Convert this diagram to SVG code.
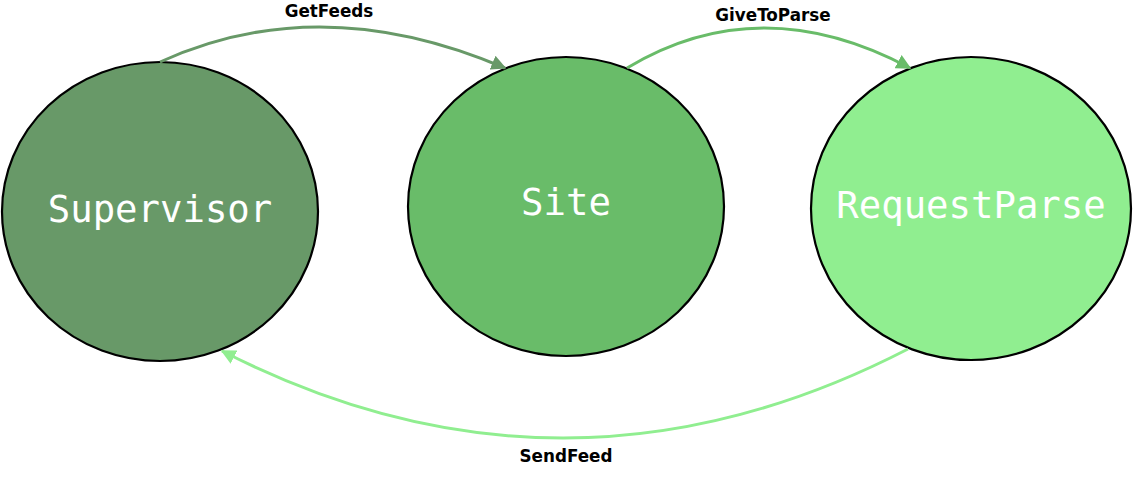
<svg xmlns="http://www.w3.org/2000/svg" width="1133" height="491" viewBox="0 0 1133 491">
<style>
.node{stroke:#000;stroke-width:2.2}
.nl{font-family:"DejaVu Sans Mono",monospace;font-size:37.3px;fill:#fff;text-anchor:middle}
.el{font-family:"DejaVu Sans",sans-serif;font-weight:bold;font-size:16.8px;fill:#000;text-anchor:middle}
.edge{fill:none;stroke-width:3}
</style>
<defs>
<marker id="a1" viewBox="0 0 10 10" refX="9" refY="5" markerWidth="5" markerHeight="5" orient="auto" markerUnits="strokeWidth"><path d="M0,0 L10,5 L0,10 z" fill="#689968"/></marker>
<marker id="a2" viewBox="0 0 10 10" refX="9" refY="5" markerWidth="5" markerHeight="5" orient="auto" markerUnits="strokeWidth"><path d="M0,0 L10,5 L0,10 z" fill="#69bc69"/></marker>
<marker id="a3" viewBox="0 0 10 10" refX="9" refY="5" markerWidth="5" markerHeight="5" orient="auto" markerUnits="strokeWidth"><path d="M0,0 L10,5 L0,10 z" fill="#90ee90"/></marker>
</defs>
<rect width="1133" height="491" fill="#fff"/>
<g id="supervisor">
<ellipse class="node" cx="160" cy="211.5" rx="158" ry="149.5" fill="#689968"/>
<text class="nl" x="160" y="222">Supervisor</text>
</g>
<g id="site">
<ellipse class="node" cx="566" cy="206.5" rx="158" ry="149.5" fill="#69bc69"/>
<text class="nl" x="566" y="215">Site</text>
</g>
<g id="requestparse">
<ellipse class="node" cx="971" cy="208.5" rx="160" ry="151.5" fill="#90ee90"/>
<text class="nl" x="971" y="218">RequestParse</text>
</g>
<g id="connectors">
<path class="edge" d="M160,62 Q320,-11 505,68" stroke="#689968" marker-end="url(#a1)"/>
<text class="el" x="329" y="17">GetFeeds</text>
<path class="edge" d="M627,68 Q760,-12 910,68" stroke="#69bc69" marker-end="url(#a2)"/>
<text class="el" x="773" y="21">GiveToParse</text>
<path class="edge" d="M908,349 Q565,526 222,351" stroke="#90ee90" marker-end="url(#a3)"/>
<text class="el" x="566" y="462">SendFeed</text>
</g>
</svg>
